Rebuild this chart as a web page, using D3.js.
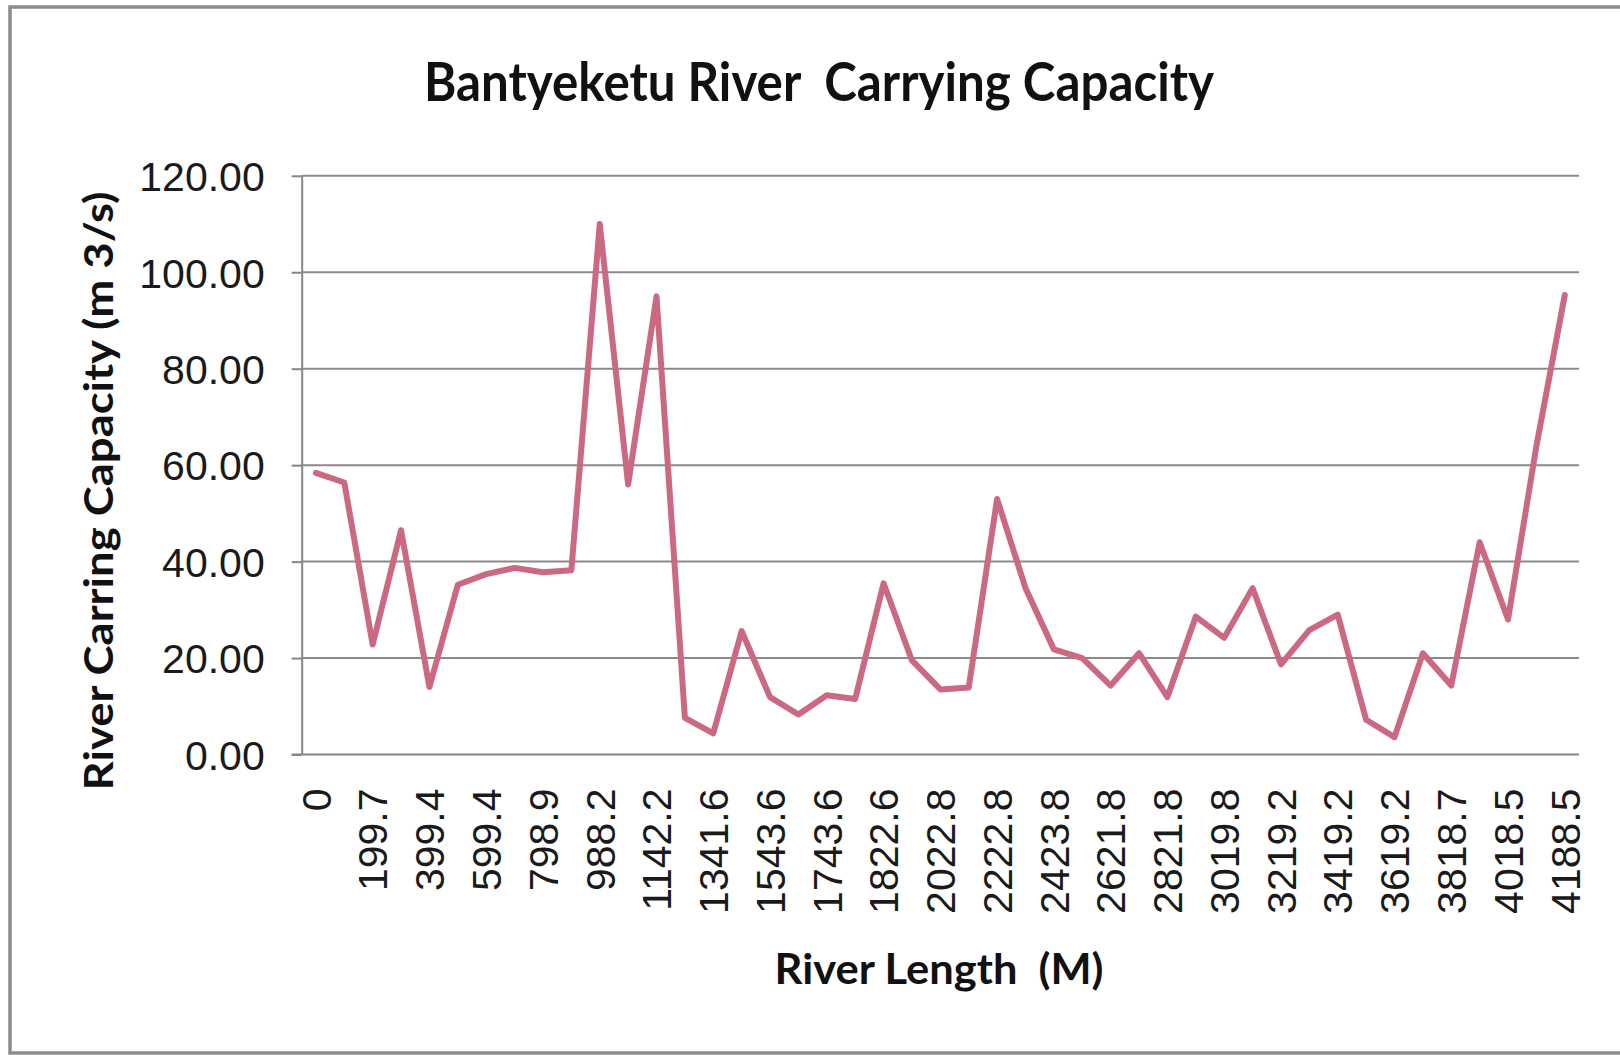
<!DOCTYPE html>
<meta charset="utf-8">
<style>
body { margin: 0; background: white; }
svg { display: block; }
.grid line { stroke: #8a8a8a; stroke-width: 2px; }
.axis path, .axis line { stroke: #868686; stroke-width: 2px; }
.axis text { font-family: "Liberation Sans", Arial, sans-serif; font-size: 41px; fill: #1a1a1a; }
.title { font-family: Lato, "Open Sans", sans-serif; font-weight: bold; fill: #111; white-space: pre; }
</style>
<svg width="1620" height="1055">
    <rect width="100%" height="100%" fill="white"/>
</svg>
<script src="https://d3js.org/d3.v7.min.js"></script>
<script>

// river length labels (every second station is labelled)
var lengthLabels = ["0", "199.7", "399.4", "599.4", "798.9", "988.2", "1142.2",
                    "1341.6", "1543.6", "1743.6", "1822.6", "2022.8", "2222.8",
                    "2423.8", "2621.8", "2821.8", "3019.8", "3219.2", "3419.2",
                    "3619.2", "3818.7", "4018.5", "4188.5"];

// carrying capacity (m3/s) per station
var capacity = [58.4, 56.4, 22.8, 46.5, 14.0, 35.2, 37.4, 38.7, 37.8, 38.2,
                110.0, 56.0, 95.0, 7.6, 4.4, 25.6, 11.9, 8.3, 12.3, 11.5,
                35.5, 19.5, 13.5, 13.9, 53.0, 34.5, 21.8, 20.0, 14.3, 21.0,
                11.9, 28.6, 24.2, 34.5, 18.7, 25.8, 29.0, 7.2, 3.6, 21.0,
                14.3, 44.0, 28.0, 64.0, 95.3];

var yTicks = [0, 20, 40, 60, 80, 100, 120];

var svg = d3.select("svg");

var plotLeft = 301.7, plotRight = 1579, plotTop = 175.8, plotBottom = 754.5;

var stations = capacity.map(function(d, i) { return i; });

var x = d3.scaleBand()
    .domain(stations)
    .range([plotLeft, plotRight])
    .padding(0);

var y = d3.scaleLinear()
    .domain([0, 120])
    .range([plotBottom, plotTop]);

// outer frame
svg.append("rect")
    .attr("x", 10).attr("y", 7)
    .attr("width", 1640).attr("height", 1046)
    .attr("fill", "none")
    .attr("stroke", "#8c8c8c")
    .attr("stroke-width", 3.5);

// gridlines
svg.append("g")
    .attr("class", "grid")
    .selectAll("line")
    .data(yTicks.slice(1))
    .enter().append("line")
    .attr("x1", plotLeft).attr("x2", plotRight)
    .attr("y1", function(d) { return y(d); })
    .attr("y2", function(d) { return y(d); });

// y axis
var yAxis = svg.append("g")
    .attr("class", "axis")
    .attr("transform", "translate(" + plotLeft + ",0)")
    .call(d3.axisLeft(y).tickValues(yTicks).tickSize(10).tickSizeOuter(0).tickPadding(27)
        .tickFormat(d3.format(".2f")));
yAxis.selectAll("text").attr("dy", "0.36em");

// x axis
var xAxis = svg.append("g")
    .attr("class", "axis")
    .attr("transform", "translate(0," + plotBottom + ")")
    .call(d3.axisBottom(x)
        .tickValues(stations.filter(function(d) { return d % 2 == 0; }))
        .tickFormat(function(d) { return lengthLabels[d / 2]; })
        .tickSize(0).tickSizeOuter(0));
xAxis.select("path").attr("d", "M" + (plotLeft - 10) + ",0H" + plotRight);
xAxis.selectAll("text")
    .attr("text-anchor", "end")
    .attr("transform", "translate(0,34) rotate(-90)")
    .attr("x", 0)
    .attr("y", 0)
    .attr("dy", "0.36em");

// the line
var line = d3.line()
    .x(function(d, i) { return x(i) + x.bandwidth() / 2; })
    .y(function(d) { return y(d); });

svg.append("path")
    .datum(capacity)
    .attr("d", line)
    .attr("fill", "none")
    .attr("stroke", "#cb6983")
    .attr("stroke-width", 6)
    .attr("stroke-linejoin", "round")
    .attr("stroke-linecap", "round");

// titles
svg.append("text")
    .attr("class", "title")
    .attr("x", 819).attr("y", 101)
    .attr("text-anchor", "middle")
    .attr("font-size", 54)
    .attr("textLength", 790)
    .attr("lengthAdjust", "spacingAndGlyphs")
    .text("Bantyeketu River  Carrying Capacity");

svg.append("text")
    .attr("class", "title")
    .attr("x", 939).attr("y", 984)
    .attr("text-anchor", "middle")
    .attr("font-size", 42)
    .attr("textLength", 329)
    .attr("lengthAdjust", "spacingAndGlyphs")
    .text("River Length  (M)");

svg.append("text")
    .attr("class", "title")
    .attr("transform", "translate(113,491) rotate(-90)")
    .attr("text-anchor", "middle")
    .attr("font-size", 41)
    .attr("textLength", 599)
    .attr("lengthAdjust", "spacingAndGlyphs")
    .text("River Carring Capacity (m 3/s)");

</script>
